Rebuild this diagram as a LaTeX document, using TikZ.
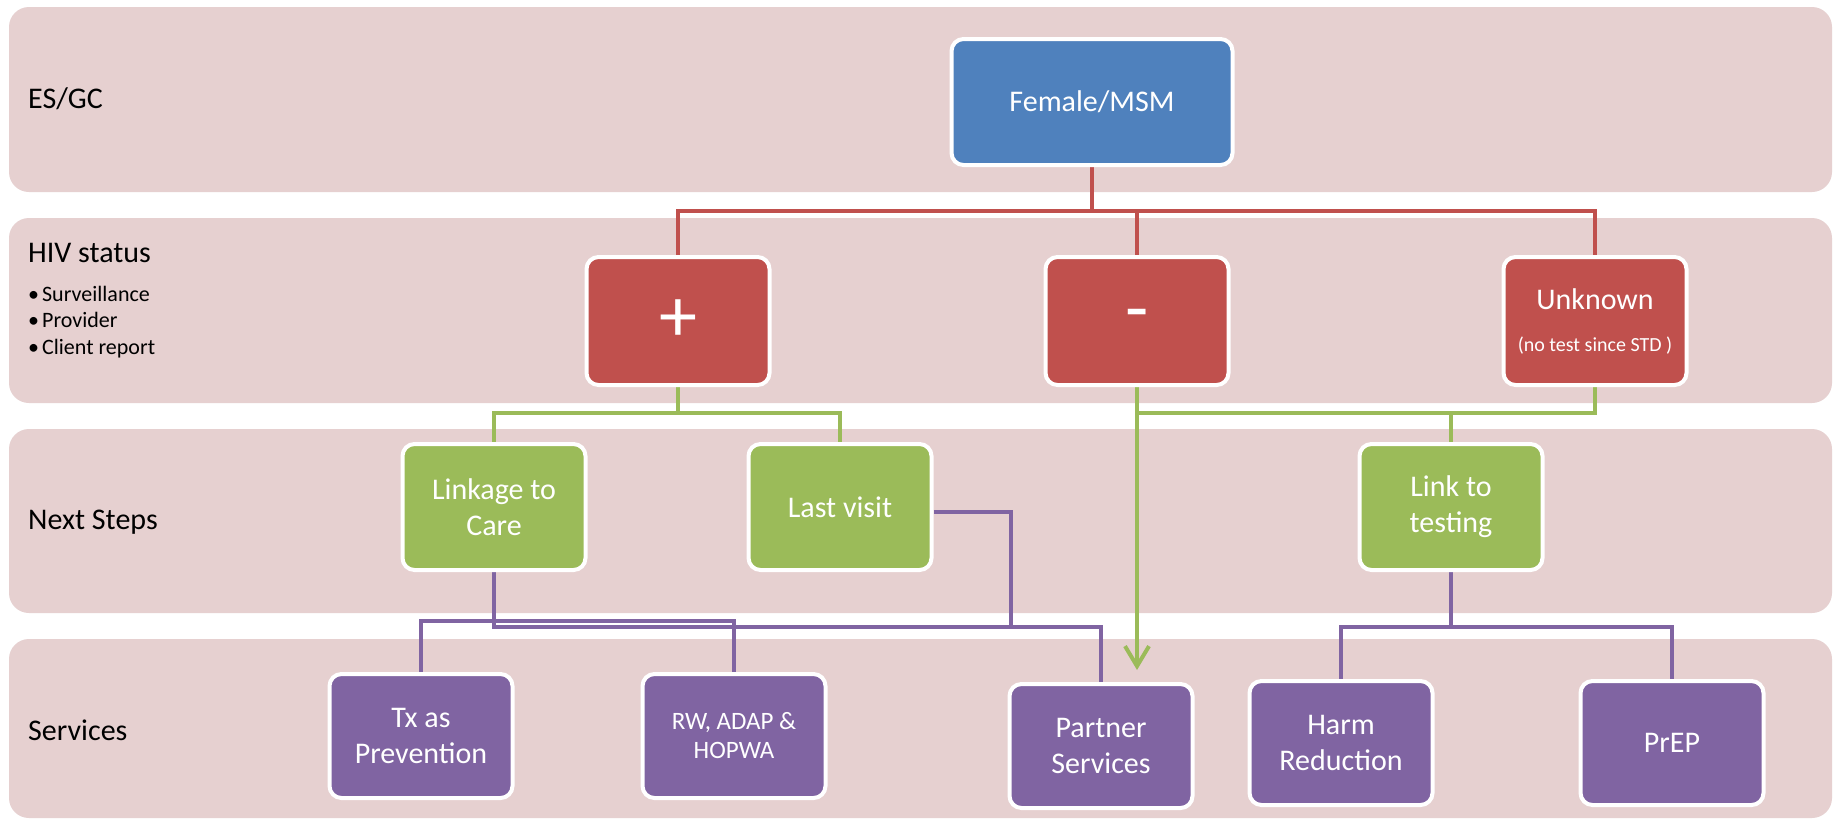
\documentclass[tikz,border=0pt]{standalone}
\usepackage{fontspec}
\setmainfont{Carlito}
\usetikzlibrary{arrows.meta}
\definecolor{bandc}{RGB}{230,208,208}
\definecolor{cblue}{RGB}{79,129,189}
\definecolor{cred}{RGB}{192,80,77}
\definecolor{cgreen}{RGB}{155,187,89}
\definecolor{cpurple}{RGB}{128,100,162}
\pgfdeclarelayer{bands}
\pgfdeclarelayer{lines}
\pgfsetlayers{bands,lines,main}
\newcommand{\bul}{•\hspace{3pt}}
\begin{document}
\begin{tikzpicture}[x=1pt,y=-1pt,
  box/.style={draw=white,line width=4pt,rounded corners=12pt,text=white,align=center,
    minimum width=183pt,minimum height=126pt,inner sep=0pt,font=\fontsize{30}{36}\selectfont},
  bluebox/.style={box,fill=cblue,minimum width=281pt},
  redbox/.style={box,fill=cred,minimum height=128pt},
  greenbox/.style={box,fill=cgreen},
  purplebox/.style={box,fill=cpurple,minimum height=124pt},
  band/.style={fill=bandc,rounded corners=20pt},
  rowlabel/.style={anchor=base west,inner sep=0pt,font=\fontsize{30}{36}\selectfont},
  bullet/.style={anchor=base west,inner sep=0pt,font=\fontsize{22}{26}\selectfont},
  conn/.style={line width=4pt},
  rline/.style={conn,draw=cred},
  gline/.style={conn,draw=cgreen},
  pline/.style={conn,draw=cpurple}]
\useasboundingbox (0,0) rectangle (1833,820);

% row labels
\node[rowlabel] (l1) at (28,108) {ES/GC};
\node[rowlabel] (l2) at (28,262) {HIV status};
\node[bullet] (b1) at (28,301) {\bul Surveillance};
\node[bullet] (b2) at (28,327.5) {\bul Provider};
\node[bullet] (b3) at (28,354) {\bul Client report};
\node[rowlabel] (l3) at (28,529) {Next Steps};
\node[rowlabel] (l4) at (28,740) {Services};

% boxes
\node[bluebox] (fem) at (1092,102) {Female/MSM};
\node[redbox,font=\fontsize{76}{80}\selectfont] (plus) at (678,321) {+};
\node[redbox,font=\fontsize{76}{80}\selectfont] (minus) at (1137,321) {-};
\node[redbox] (unk) at (1595,321) {Unknown\\[6pt]{\fontsize{20}{24}\selectfont (no test since STD )}};
\node[greenbox] (link) at (494,507) {Linkage to\\Care};
\node[greenbox] (last) at (840,507) {Last visit};
\node[greenbox] (ltt) at (1451,507) {Link to\\testing};
\node[purplebox] (tx) at (421,736) {Tx as\\Prevention};
\node[purplebox,font=\fontsize{25}{29}\selectfont] (rw) at (734,736) {RW, ADAP \&\\HOPWA};
\node[purplebox] (partner) at (1101,746) {Partner\\Services};
\node[purplebox] (harm) at (1341,743) {Harm\\Reduction};
\node[purplebox] (prep) at (1672,743) {PrEP};

% bus levels
\coordinate (rbus) at (0,211);
\coordinate (gbus) at (0,413);
\coordinate (pbusA) at (0,621);
\coordinate (pbusB) at (0,627);
\coordinate (lvx) at (1011,0);
\coordinate (arrtip) at (1137,670);

\begin{pgfonlayer}{bands}
\fill[white] (0,0) rectangle (1833,820);
\fill[band] (9,7) rectangle (1832,192);
\fill[band] (9,218) rectangle (1832,403);
\fill[band] (9,429) rectangle (1832,613);
\fill[band] (9,639) rectangle (1832,818);
\end{pgfonlayer}

\begin{pgfonlayer}{lines}
% red
\draw[rline] (fem.south) -- (fem.south |- rbus) -| (plus.north);
\draw[rline] (fem.south) -- (fem.south |- rbus) -| (minus.north);
\draw[rline] (fem.south) -- (fem.south |- rbus) -| (unk.north);
% green
\draw[gline] (plus.south) -- (plus.south |- gbus) -| (link.north);
\draw[gline] (plus.south) -- (plus.south |- gbus) -| (last.north);
\draw[gline] (minus.south) -- (minus.south |- gbus) -| (ltt.north);
\draw[gline] (unk.south) -- (unk.south |- gbus) -| (ltt.north);
\draw[gline,-{Straight Barb[length=20pt,width=24pt,line width=4pt]}] (minus.south) -- (arrtip);
% purple
\draw[pline] (link.south) -- (link.south |- pbusA) -| (tx.north);
\draw[pline] (link.south) -- (link.south |- pbusA) -| (rw.north);
\draw[pline] (link.south) -- (link.south |- pbusB) -| (partner.north);
\draw[pline] ([yshift=-5pt]last.east) -- ([yshift=-5pt]last.east -| lvx) -- (lvx |- pbusB) -| (partner.north);
\draw[pline] (ltt.south) -- (ltt.south |- pbusB) -| (harm.north);
\draw[pline] (ltt.south) -- (ltt.south |- pbusB) -| (prep.north);
\end{pgfonlayer}
\end{tikzpicture}
\end{document}
